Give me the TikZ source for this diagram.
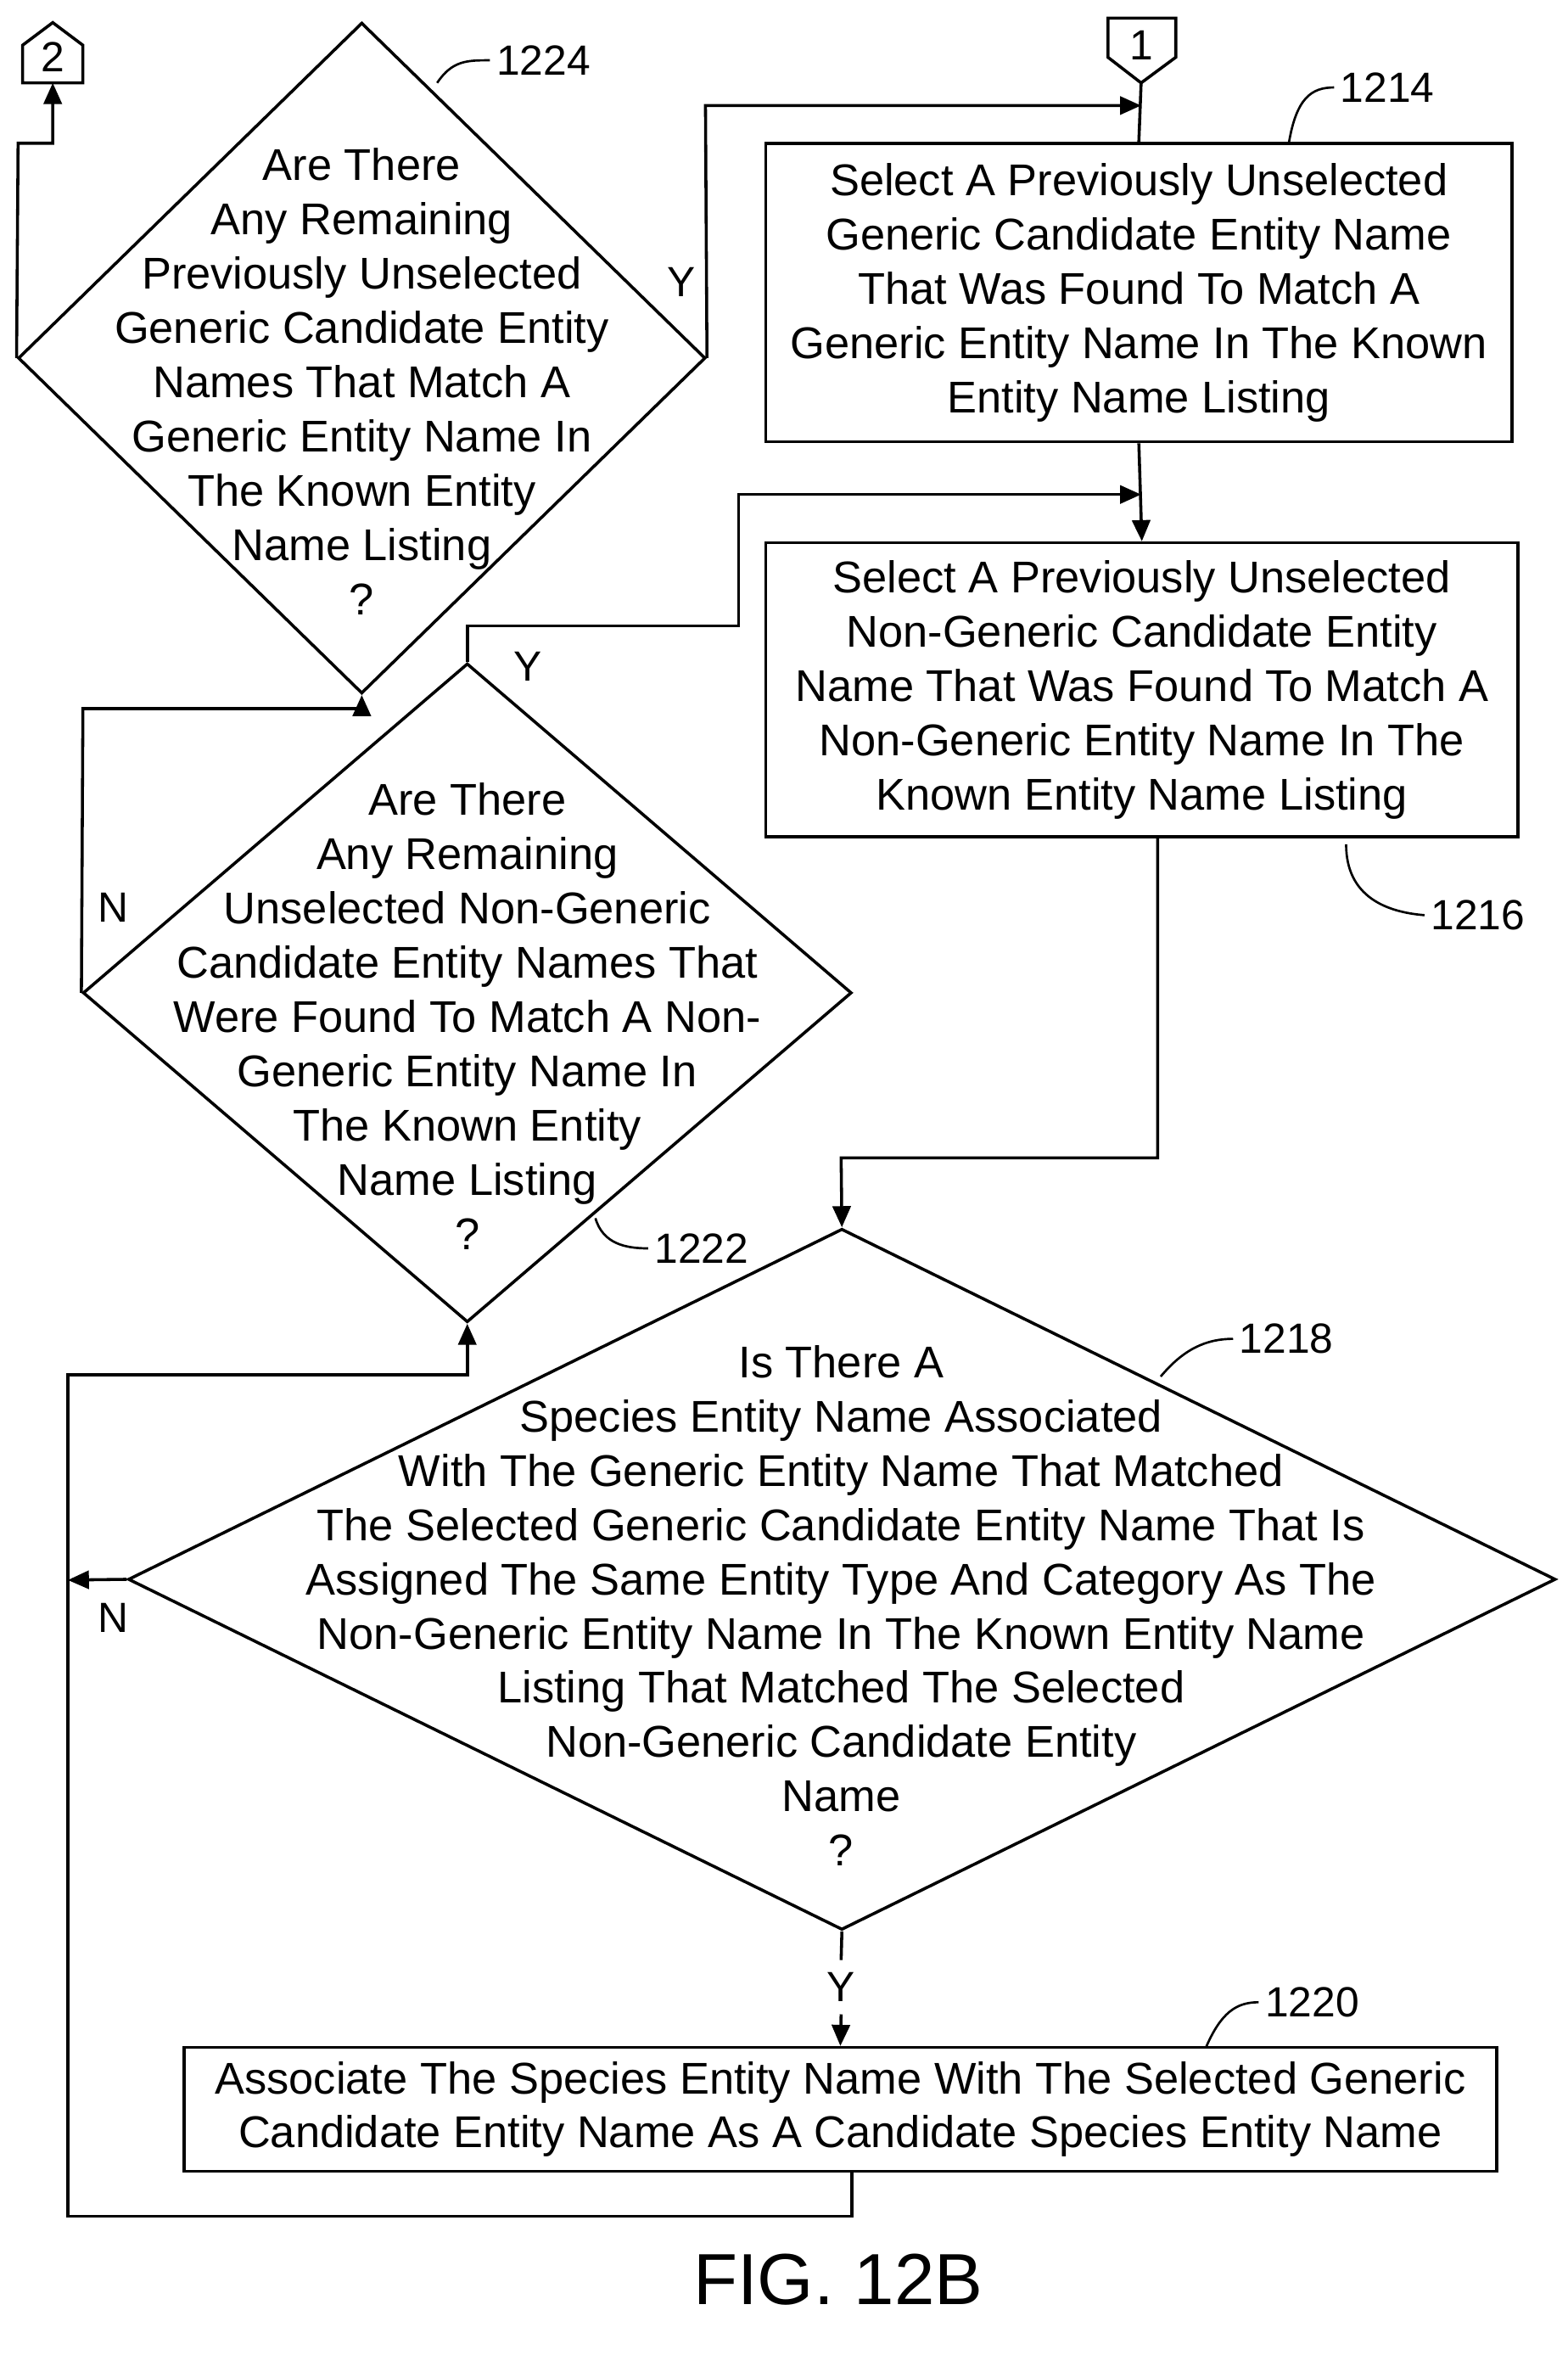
\documentclass[tikz,border=0pt]{standalone}
\usepackage{fontspec}
\setmainfont{Liberation Sans}
\usetikzlibrary{arrows.meta,positioning,shapes.geometric}
\begin{document}
\begin{tikzpicture}[x=1pt,y=-1pt,line width=2pt]
\tikzstyle{box}=[draw,rectangle,inner sep=0pt]
\tikzstyle{dec}=[draw,diamond,inner sep=0pt]
\tikzstyle{txt}=[align=center,font=\fontsize{29.5}{36}\selectfont]
\tikzstyle{lbl}=[font=\fontsize{28}{30}\selectfont]
\tikzstyle{arrow}=[-{Triangle[length=14pt,width=12pt]}]
\useasboundingbox (0,0) rectangle (1040,1562);
% connectors
\draw (15,55) -- (15,30) -- (35,15) -- (55,30) -- (55,55) -- cycle;
\node[lbl] (c2) at (35,38) {2};
\draw (735,12) -- (780,12) -- (780,38) -- (757,55) -- (735,38) -- cycle;
\node[lbl] (c1) at (757,30) {1};
\coordinate (c2b) at (35,55);
\coordinate (c1b) at (757,55);
% steps
\node[box,minimum width=495,minimum height=198] (b1214) at (755.5,194) {};
\node[txt] at (b1214) {Select A Previously Unselected\\Generic Candidate Entity Name\\That Was Found To Match A\\Generic Entity Name In The Known\\Entity Name Listing};
\node[box,minimum width=499,minimum height=195] (b1216) at (757.5,457.5) {};
\node[txt] at (b1216) {Select A Previously Unselected\\Non-Generic Candidate Entity\\Name That Was Found To Match A\\Non-Generic Entity Name In The\\Known Entity Name Listing};
\node[box,minimum width=871,minimum height=82] (b1220) at (557.5,1399) {};
\node[txt] at (b1220) {Associate The Species Entity Name With The Selected Generic\\Candidate Entity Name As A Candidate Species Entity Name};
% decisions
\node[dec,minimum width=456,minimum height=445] (d1224) at (240,237.5) {};
\node[txt] at (240,253) {Are There\\Any Remaining\\Previously Unselected\\Generic Candidate Entity\\Names That Match A\\Generic Entity Name In\\The Known Entity\\Name Listing\\?};
\node[dec,minimum width=510,minimum height=437] (d1222) at (310,658.5) {};
\node[txt] at (310,674) {Are There\\Any Remaining\\Unselected Non-Generic\\Candidate Entity Names That\\Were Found To Match A Non-\\Generic Entity Name In\\The Known Entity\\Name Listing\\?};
\node[dec,minimum width=947,minimum height=465] (d1218) at (558.5,1047.5) {};
\node[txt] at (558,1065) {Is There A\\Species Entity Name Associated\\With The Generic Entity Name That Matched\\The Selected Generic Candidate Entity Name That Is\\Assigned The Same Entity Type And Category As The\\Non-Generic Entity Name In The Known Entity Name\\Listing That Matched The Selected\\Non-Generic Candidate Entity\\Name\\?};
% flow
\draw[arrow] (d1224.west) -- (12,95) -- (35,95) -- (c2b);
\draw[arrow] (d1224.east) -- (468,70) -- (757,70);
\draw (c1b) -- (b1214.north);
\draw[arrow] (b1214.south) -- (b1216.north);
\draw[arrow] (d1222.north) -- (310,415) -- (490,415) -- (490,328) -- (757,328);
\draw[arrow] (d1222.west) -- (55,470) -- (240,470) -- (d1224.south);
\draw[arrow] (768,555) -- (768,768) -- (558,768) -- (d1218.north);
\draw[arrow] (d1218.west) -- (45,1048);
\draw[arrow] (565,1440) -- (565,1470) -- (45,1470) -- (45,912) -- (310,912) -- (d1222.south);
\draw (d1218.south) -- (558,1300);
\draw[arrow] (558,1336) -- (b1220.north);
\node[lbl] at (452,187) {Y};
\node[lbl] at (350,442) {Y};
\node[lbl] at (75,602) {N};
\node[lbl] at (75,1073) {N};
\node[lbl] at (558,1318) {Y};
% reference numbers
\draw[line width=1.5pt] (290,55) .. controls (300,40) and (310,40) .. (325,40);
\node[lbl,anchor=west] at (325,40) {1224};
\draw[line width=1.5pt] (855,95) .. controls (860,65) and (870,58) .. (885,58);
\node[lbl,anchor=west] at (885,58) {1214};
\draw[line width=1.5pt] (893,560) .. controls (893,595) and (920,605) .. (945,607);
\node[lbl,anchor=west] at (945,607) {1216};
\draw[line width=1.5pt] (395,808) .. controls (400,825) and (415,828) .. (430,828);
\node[lbl,anchor=west] at (430,828) {1222};
\draw[line width=1.5pt] (770,913) .. controls (785,895) and (800,888) .. (818,888);
\node[lbl,anchor=west] at (818,888) {1218};
\draw[line width=1.5pt] (800,1358) .. controls (810,1335) and (820,1328) .. (835,1328);
\node[lbl,anchor=west] at (835,1328) {1220};
\node[font=\fontsize{48}{50}\selectfont] at (556,1512) {FIG. 12B};
\end{tikzpicture}
\end{document}
